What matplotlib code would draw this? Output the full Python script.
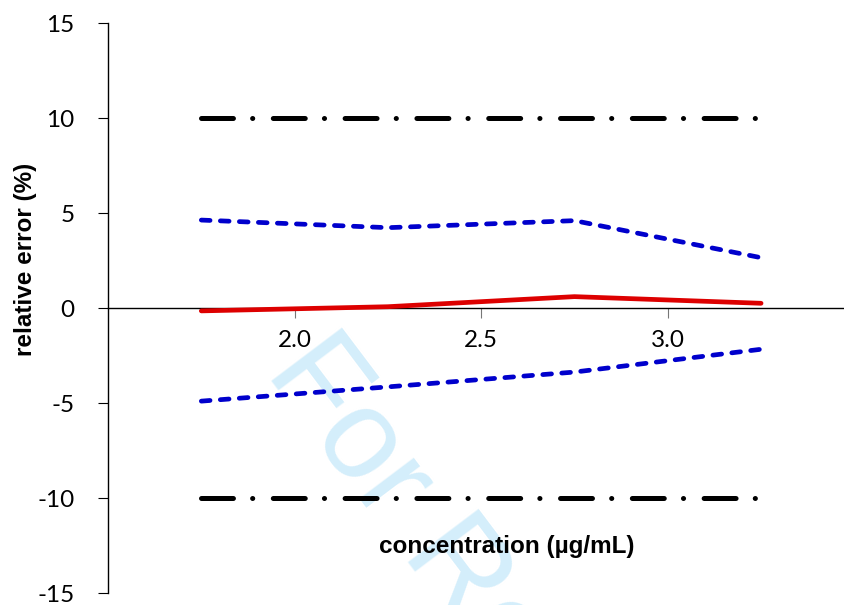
import matplotlib.pyplot as plt
import matplotlib

matplotlib.rcParams['font.family'] = ['Lato', 'DejaVu Sans']
matplotlib.rcParams['lines.scale_dashes'] = False
matplotlib.rcParams['axes.unicode_minus'] = False

# data
conc = [1.75, 2.25, 2.75, 3.25]
mean_err = [-0.15, 0.07, 0.6, 0.25]
upper_ci = [4.63, 4.23, 4.6, 2.65]
lower_ci = [-4.9, -4.15, -3.37, -2.17]
upper_lim = [10, 10, 10, 10]
lower_lim = [-10, -10, -10, -10]
xticks = [2.0, 2.5, 3.0]
yticks = [-15, -10, -5, 0, 5, 10, 15]

fig = plt.figure(figsize=(8.44, 6.05), dpi=100)
ax = fig.add_axes([0.128, 0.0198, 0.871, 0.9421])

# watermark
fig.text(0.312, 0.385, 'For Review', fontsize=92, color='#d4eefb',
         rotation=-53, rotation_mode='anchor', ha='left', va='baseline',
         family=['Liberation Sans'], zorder=-1)

dashdot = (0, (23, 13.8, 0.1, 14.8))
ax.plot(conc, upper_lim, color='black', lw=3.6, linestyle=dashdot,
        dash_capstyle='round', zorder=3)
ax.plot(conc, lower_lim, color='black', lw=3.6, linestyle=dashdot,
        dash_capstyle='round', zorder=3)
ax.plot(conc, upper_ci, color='#0000cc', lw=3.4, linestyle=(0, (6.3, 7.4)),
        dash_capstyle='round', zorder=3)
ax.plot(conc, lower_ci, color='#0000cc', lw=3.4, linestyle=(0, (6.3, 7.4)),
        dash_capstyle='round', zorder=3)
ax.plot(conc, mean_err, color='#dd0000', lw=3.4, solid_capstyle='round', zorder=4)

ax.set_xlim(1.5, 3.47)
ax.set_ylim(-15, 15)
ax.set_yticks(yticks)
ax.set_xticks(xticks)
ax.set_xticklabels(['%.1f' % t for t in xticks])
ax.patch.set_alpha(0)

ax.spines['top'].set_visible(False)
ax.spines['right'].set_visible(False)
ax.spines['bottom'].set_position(('data', 0))
ax.spines['left'].set_linewidth(1)
ax.spines['bottom'].set_linewidth(1)

ax.tick_params(axis='y', direction='out', length=7, width=0.8,
               labelsize=17.5, pad=17, colors='black')
ax.tick_params(axis='x', direction='out', length=7, width=0.8,
               labelsize=17.5, pad=9, color='#777777', labelcolor='black')

ax.set_ylabel('relative error (%)', fontsize=17.5, fontweight='bold',
              family=['Liberation Sans'])
ax.yaxis.set_label_coords(-0.097, 0.585)
ax.text(0.543, 0.081, 'concentration (µg/mL)', transform=ax.transAxes,
        ha='center', va='center', fontsize=17.5, fontweight='bold',
        family=['Liberation Sans'])

plt.savefig('out.png', dpi=100)
